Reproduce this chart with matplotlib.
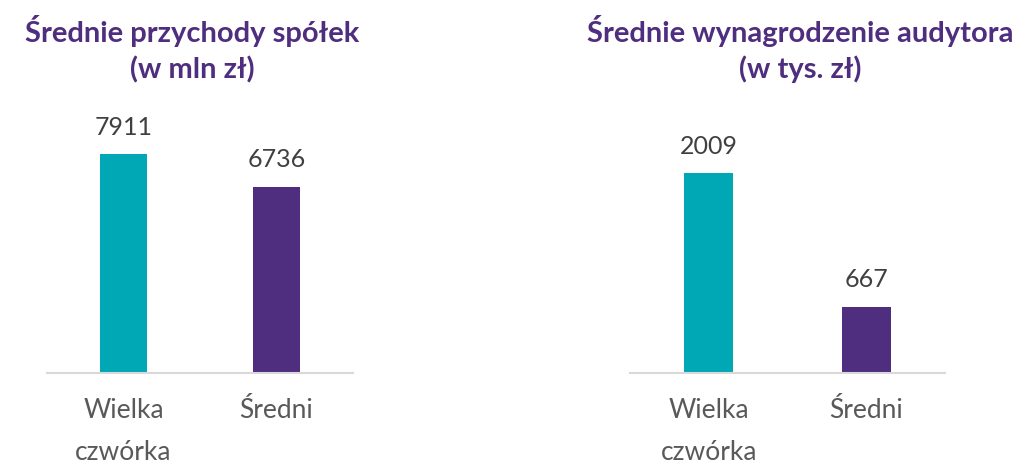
import matplotlib
matplotlib.use("Agg")
import matplotlib.pyplot as plt

categories = ["Wielka\nczwórka", "Średni"]
revenue = [7911, 6736]
audit_fee = [2009, 667]
titles = ["Średnie przychody spółek\n(w mln zł)", "Średnie wynagrodzenie audytora\n(w tys. zł)"]

teal = "#00A7B5"
purple = "#4F2D7F"
bar_colors = [teal, purple]

plt.rcParams["font.family"] = ["Lato", "DejaVu Sans"]

fig = plt.figure(figsize=(10.26, 4.70), dpi=100)
W, H = 1026, 470

def make_axes(x0, x1, ybot, ytop):
    return fig.add_axes([x0 / W, 1 - ybot / H, (x1 - x0) / W, (ybot - ytop) / H])

ax1 = make_axes(47, 353, 373, 100)
ax2 = make_axes(630, 945, 373, 100)

panels = [(ax1, revenue, 9862, 192), (ax2, audit_fee, 2741, 800)]
for (ax, vals, ymax, tx), title in zip(panels, titles):
    xs = range(len(categories))
    bars = ax.bar(xs, vals, width=0.31, color=bar_colors)
    ax.set_xlim(-0.5, 1.5)
    ax.set_ylim(0, ymax)
    for b, v in zip(bars, vals):
        ax.annotate(str(v), (b.get_x() + b.get_width() / 2, v),
                    xytext=(0, 11), textcoords="offset points",
                    ha="center", va="bottom", fontsize=18,
                    color="#404040")
    ax.set_xticks(list(xs))
    ax.set_xticklabels(categories, fontsize=19, color="#595959",
                       linespacing=1.85)
    ax.tick_params(axis="x", length=0, pad=18)
    ax.set_yticks([])
    for s in ["top", "right", "left"]:
        ax.spines[s].set_visible(False)
    ax.spines["bottom"].set_color("#d9d9d9")
    ax.spines["bottom"].set_linewidth(1.5)
    fig.text(tx / W, 1 - 49 / H, title, ha="center", va="center",
             fontsize=21, fontweight="bold", color=purple, linespacing=1.4)

fig.savefig("out.png", dpi=100)
